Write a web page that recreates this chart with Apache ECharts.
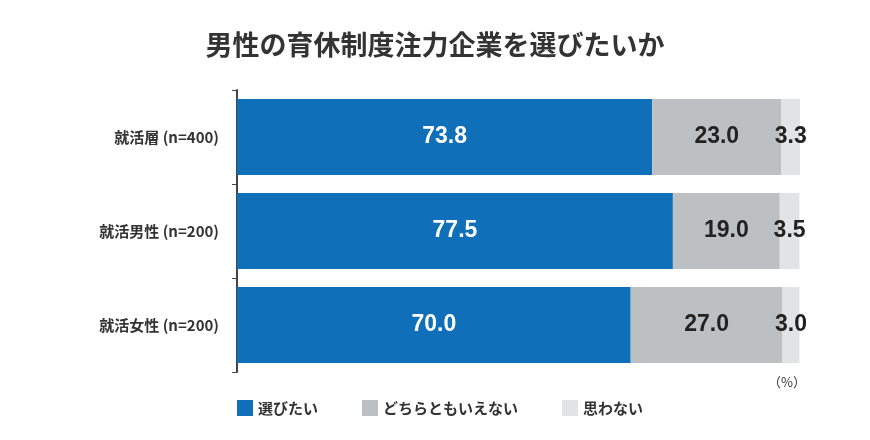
<!DOCTYPE html>
<html>
<head>
<meta charset="utf-8">
<script src="https://cdn.jsdelivr.net/npm/echarts@6/dist/echarts.min.js"></script>
<style>html,body{margin:0;padding:0;background:#fff;}#chart{width:870px;height:440px;}</style>
</head>
<body>
<div id="chart"></div>
<script>
var categories = ['就活層 (n=400)', '就活男性 (n=200)', '就活女性 (n=200)'];
var serChoose = [73.8, 77.5, 70.0];
var serNeither = [23.0, 19.0, 27.0];
var serNot = [3.3, 3.5, 3.0];
var seriesNames = ['選びたい', 'どちらともいえない', '思わない'];

var FONT = '"Noto Sans CJK JP", sans-serif';

function labelOf(color){
	return {
		show: true,
		position: 'inside',
		color: color,
		fontSize: 23,
		fontFamily: 'Liberation Sans, Arial, sans-serif',
		fontWeight: 'bold',
		formatter: function(p){ return p.value.toFixed(1); }
	};
}

var option = {
	backgroundColor: '#fff',
	animation: false,
	title: {
		text: '男性の育休制度注力企業を選びたいか',
		left: 'center',
		top: 26,
		textStyle: { fontSize: 27, fontFamily: FONT, fontWeight: 'bold', color: '#333' }
	},
	legend: {
		left: 232,
		top: 395,
		itemWidth: 16,
		itemHeight: 16,
		itemGap: 44,
		icon: 'rect',
		textStyle: { fontSize: 15, fontFamily: FONT, fontWeight: 'bold', color: '#333' },
		data: seriesNames
	},
	graphic: [{
		type: 'text', left: 768, top: 376,
		style: { text: '（%）', fontSize: 13, fontFamily: FONT, fill: '#333' }
	}],
	grid: { left: 237, right: 70, top: 90, bottom: 68 },
	xAxis: { type: 'value', min: 0, max: 100.1, show: false },
	yAxis: {
		type: 'category',
		inverse: true,
		data: categories,
		axisLine: { show: true, lineStyle: { color: '#444', width: 2 } },
		axisTick: { show: true, length: 5, lineStyle: { color: '#444' } },
		axisLabel: { fontSize: 15, fontFamily: FONT, fontWeight: 'bold', color: '#333', margin: 18 }
	},
	series: [
		{ name: seriesNames[0], type: 'bar', stack: 'a', barWidth: 76, data: serChoose,
		  itemStyle: { color: '#0f6fb8' }, label: labelOf('#fff') },
		{ name: seriesNames[1], type: 'bar', stack: 'a', data: serNeither,
		  itemStyle: { color: '#bdc0c3' }, label: labelOf('#222') },
		{ name: seriesNames[2], type: 'bar', stack: 'a', data: serNot,
		  itemStyle: { color: '#e2e3e4' }, label: Object.assign(labelOf('#222'), { overflow: 'none' }) }
	]
};

var chart = echarts.init(document.getElementById('chart'));
chart.setOption(option);
</script>
</body>
</html>
